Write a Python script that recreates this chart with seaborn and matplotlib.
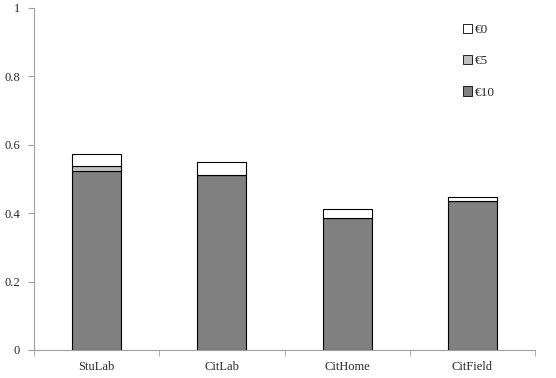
import numpy as np
import pandas as pd
import seaborn as sns
import matplotlib.pyplot as plt
from matplotlib.patches import Patch

# 数据
treatments = ["StuLab", "CitLab", "CitHome", "CitField"]
share_10 = [0.522, 0.512, 0.385, 0.436]
share_5 = [0.015, 0.0, 0.0, 0.0]
share_0 = [0.036, 0.037, 0.026, 0.012]

df = pd.DataFrame({"treatment": treatments, "e10": share_10, "e5": share_5, "e0": share_0})

sns.set_style("white")
plt.rcParams["font.family"] = ["Liberation Serif", "DejaVu Serif"]

fig = plt.figure(figsize=(5.56, 3.78), dpi=100)
ax = fig.add_axes([34 / 556, 1 - 350 / 378, 501 / 556, 342 / 378])

w = 0.39
sns.barplot(data=df, x="treatment", y="e10", color="#808080", edgecolor="black",
            linewidth=0.8, width=w, saturation=1, ax=ax)
sns.barplot(data=df, x="treatment", y="e5", color="#c0c0c0", edgecolor="black",
            linewidth=0.8, width=w, saturation=1, bottom=df["e10"], ax=ax)
sns.barplot(data=df, x="treatment", y="e0", color="white", edgecolor="black",
            linewidth=0.8, width=w, saturation=1, bottom=df["e10"] + df["e5"], ax=ax)

ax.set_xlim(-0.5, 3.5)
ax.set_ylim(0, 1)
ax.set_xlabel("")
ax.set_ylabel("")
ax.set_yticks([0, 0.2, 0.4, 0.6, 0.8, 1.0])
ax.set_yticklabels(["0", "0.2", "0.4", "0.6", "0.8", "1"], fontsize=9)
ax.set_xticks(range(4))
ax.set_xticklabels(treatments, fontsize=9)
ax.set_xticks(np.arange(-0.5, 4.0, 1.0), minor=True)
ax.tick_params(axis="x", which="major", length=0, pad=8)
ax.tick_params(axis="x", which="minor", length=4, color="#a0a0a0", direction="out", bottom=True)
ax.tick_params(axis="y", length=4, color="#a0a0a0", direction="out", left=True, pad=6)

for s in ["top", "right"]:
    ax.spines[s].set_visible(False)
for s in ["left", "bottom"]:
    ax.spines[s].set_color("#a0a0a0")
    ax.spines[s].set_linewidth(0.8)

handles = [
    Patch(facecolor="white", edgecolor="black", linewidth=0.6, label="€0"),
    Patch(facecolor="#c0c0c0", edgecolor="black", linewidth=0.6, label="€5"),
    Patch(facecolor="#808080", edgecolor="black", linewidth=0.6, label="€10"),
]
ax.legend(handles=handles, loc="upper left", bbox_to_anchor=(0.845, 0.97), frameon=False,
          fontsize=9.5, handlelength=0.7, handleheight=0.7, handletextpad=0.2,
          labelspacing=1.45, borderaxespad=0)

fig.savefig("out.png", dpi=100)
